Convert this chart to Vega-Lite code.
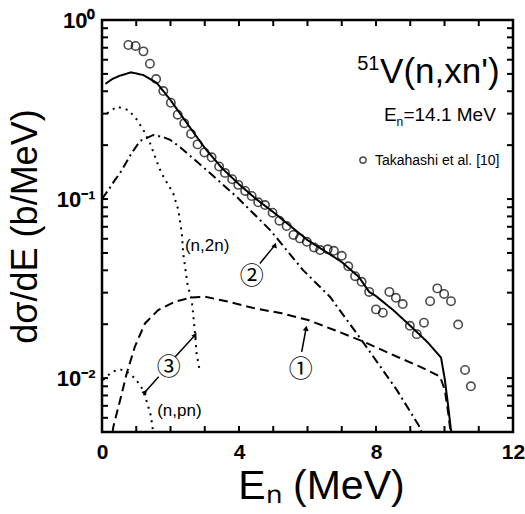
{
  "$schema": "https://vega.github.io/schema/vega-lite/v6.json",
  "width": 411,
  "height": 412,
  "autosize": {"type": "none"},
  "padding": {"left": 102, "top": 20, "right": 12, "bottom": 82},
  "background": "white",
  "config": {
    "view": {"stroke": "black", "strokeWidth": 2.5},
    "font": "Liberation Sans",
    "axis": {"domain": false, "grid": false, "labelColor": "black", "titleColor": "black", "labelOverlap": false, "labelFlush": false}
  },
  "datasets": {
    "xticks": [{"v":0},{"v":1},{"v":2},{"v":3},{"v":4},{"v":5},{"v":6},{"v":7},{"v":8},{"v":9},{"v":10},{"v":11},{"v":12}],
    "yticks": [{"v":0.006},{"v":0.007},{"v":0.008},{"v":0.009},{"v":0.01},{"v":0.02},{"v":0.03},{"v":0.04},{"v":0.05},{"v":0.06},{"v":0.07},{"v":0.08},{"v":0.09},{"v":0.1},{"v":0.2},{"v":0.3},{"v":0.4},{"v":0.5},{"v":0.6},{"v":0.7},{"v":0.8},{"v":0.9}],
    "points": [
      {"E":0.77,"y":0.725},{"E":0.98,"y":0.716},{"E":1.21,"y":0.668},{"E":1.40,"y":0.570},{"E":1.58,"y":0.468},
      {"E":1.79,"y":0.401},{"E":2.01,"y":0.345},{"E":2.21,"y":0.296},{"E":2.40,"y":0.265},{"E":2.60,"y":0.231},
      {"E":2.79,"y":0.202},{"E":2.99,"y":0.182},{"E":3.20,"y":0.171},{"E":3.42,"y":0.152},{"E":3.59,"y":0.140},
      {"E":3.80,"y":0.129},{"E":3.98,"y":0.120},{"E":4.18,"y":0.111},{"E":4.37,"y":0.104},{"E":4.56,"y":0.0959},
      {"E":4.76,"y":0.0926},{"E":4.98,"y":0.0839},{"E":5.18,"y":0.0757},{"E":5.39,"y":0.0707},{"E":5.59,"y":0.0630},
      {"E":5.78,"y":0.0603},{"E":5.98,"y":0.0577},{"E":6.19,"y":0.0537},{"E":6.37,"y":0.0519},{"E":6.59,"y":0.0524},
      {"E":6.77,"y":0.0514},{"E":7.00,"y":0.0482},{"E":7.19,"y":0.0421},{"E":7.39,"y":0.0371},{"E":7.58,"y":0.0345},
      {"E":7.80,"y":0.0303},{"E":8.00,"y":0.0242},{"E":8.20,"y":0.0232},{"E":8.39,"y":0.0303},{"E":8.58,"y":0.0281},
      {"E":8.78,"y":0.0259},{"E":8.99,"y":0.0196},{"E":9.19,"y":0.0176},{"E":9.40,"y":0.0204},{"E":9.58,"y":0.0269},
      {"E":9.79,"y":0.0317},{"E":9.99,"y":0.0295},{"E":10.19,"y":0.0269},{"E":10.40,"y":0.0199},{"E":10.60,"y":0.0111},
      {"E":10.77,"y":0.0090}
    ],
    "curves": [
      {"s":"total","E":0.1,"y":0.44},{"s":"total","E":0.3,"y":0.468},{"s":"total","E":0.5,"y":0.487},{"s":"total","E":0.85,"y":0.51},
      {"s":"total","E":1.2,"y":0.493},{"s":"total","E":1.6,"y":0.445},{"s":"total","E":2.0,"y":0.357},{"s":"total","E":2.5,"y":0.262},
      {"s":"total","E":3.0,"y":0.193},{"s":"total","E":3.5,"y":0.149},{"s":"total","E":4.0,"y":0.121},{"s":"total","E":4.5,"y":0.1},
      {"s":"total","E":5.0,"y":0.0846},{"s":"total","E":5.5,"y":0.0707},{"s":"total","E":6.0,"y":0.059},{"s":"total","E":6.5,"y":0.0513},
      {"s":"total","E":7.0,"y":0.0445},{"s":"total","E":7.5,"y":0.0367},{"s":"total","E":7.8,"y":0.0303},{"s":"total","E":8.0,"y":0.0287},
      {"s":"total","E":8.5,"y":0.024},{"s":"total","E":9.0,"y":0.0196},{"s":"total","E":9.5,"y":0.0159},{"s":"total","E":9.9,"y":0.013},
      {"s":"total","E":10.01,"y":0.0098},{"s":"total","E":10.11,"y":0.0069},{"s":"total","E":10.18,"y":0.0053},{"s":"total","E":10.2,"y":0.005},
      {"s":"c1","E":0.31,"y":0.005},{"s":"c1","E":0.33,"y":0.00534},{"s":"c1","E":0.53,"y":0.00754},{"s":"c1","E":0.72,"y":0.0106},
      {"s":"c1","E":0.96,"y":0.015},{"s":"c1","E":1.255,"y":0.0202},{"s":"c1","E":1.64,"y":0.024},{"s":"c1","E":2.13,"y":0.0267},
      {"s":"c1","E":2.62,"y":0.0282},{"s":"c1","E":3.01,"y":0.0285},{"s":"c1","E":3.69,"y":0.0267},{"s":"c1","E":4.47,"y":0.0245},
      {"s":"c1","E":5.25,"y":0.023},{"s":"c1","E":6.02,"y":0.0211},{"s":"c1","E":6.8,"y":0.0185},{"s":"c1","E":7.63,"y":0.016},
      {"s":"c1","E":8.6,"y":0.0132},{"s":"c1","E":9.28,"y":0.0116},{"s":"c1","E":9.87,"y":0.0102},{"s":"c1","E":10.01,"y":0.00857},
      {"s":"c1","E":10.11,"y":0.00635},{"s":"c1","E":10.16,"y":0.00532},{"s":"c1","E":10.17,"y":0.005},
      {"s":"c2","E":0.0,"y":0.1},{"s":"c2","E":0.18,"y":0.112},{"s":"c2","E":0.38,"y":0.128},{"s":"c2","E":0.53,"y":0.14},
      {"s":"c2","E":0.87,"y":0.181},{"s":"c2","E":1.11,"y":0.211},{"s":"c2","E":1.5,"y":0.228},{"s":"c2","E":1.78,"y":0.222},
      {"s":"c2","E":1.99,"y":0.214},{"s":"c2","E":2.28,"y":0.195},{"s":"c2","E":2.95,"y":0.151},{"s":"c2","E":3.94,"y":0.1026},
      {"s":"c2","E":4.91,"y":0.0671},{"s":"c2","E":5.87,"y":0.0401},{"s":"c2","E":6.66,"y":0.0284},{"s":"c2","E":7.62,"y":0.0159},
      {"s":"c2","E":8.61,"y":0.00857},{"s":"c2","E":9.28,"y":0.00532},{"s":"c2","E":9.33,"y":0.005},
      {"s":"n2n","E":0.15,"y":0.301},{"s":"n2n","E":0.43,"y":0.328},{"s":"n2n","E":0.77,"y":0.314},{"s":"n2n","E":1.01,"y":0.279},
      {"s":"n2n","E":1.21,"y":0.243},{"s":"n2n","E":1.4,"y":0.206},{"s":"n2n","E":1.6,"y":0.162},{"s":"n2n","E":1.74,"y":0.139},
      {"s":"n2n","E":2.08,"y":0.1076},{"s":"n2n","E":2.23,"y":0.0868},{"s":"n2n","E":2.33,"y":0.0646},{"s":"n2n","E":2.37,"y":0.0499},
      {"s":"n2n","E":2.5,"y":0.0331},{"s":"n2n","E":2.62,"y":0.0273},{"s":"n2n","E":2.67,"y":0.0219},{"s":"n2n","E":2.72,"y":0.0174},
      {"s":"n2n","E":2.76,"y":0.0138},{"s":"n2n","E":2.86,"y":0.0108},
      {"s":"npn","E":0.03,"y":0.00975},{"s":"npn","E":0.29,"y":0.01084},{"s":"npn","E":0.53,"y":0.0112},{"s":"npn","E":0.73,"y":0.01084},
      {"s":"npn","E":0.97,"y":0.00996},{"s":"npn","E":1.17,"y":0.00876},{"s":"npn","E":1.31,"y":0.00737},{"s":"npn","E":1.41,"y":0.00635},
      {"s":"npn","E":1.46,"y":0.00558},{"s":"npn","E":1.49,"y":0.005}
    ],
    "arrows": [
      {"id":"a1","x":5.83,"y":0.014,"x2":5.96,"y2":0.019},
      {"id":"a2","x":4.61,"y":0.0437,"x2":5.05,"y2":0.0553},
      {"id":"a3a","x":2.14,"y":0.01315,"x2":2.72,"y2":0.0174},
      {"id":"a3b","x":1.655,"y":0.01016,"x2":1.264,"y2":0.00838}
    ],
    "circled": [
      {"t":"①","E":5.8,"y":0.0111},
      {"t":"②","E":4.37,"y":0.0368},
      {"t":"③","E":1.95,"y":0.01132}
    ],
    "notes": [
      {"t":"51","k":"sup","E":7.45,"y":0.526},
      {"t":"V(n,xn')","k":"big","E":8.12,"y":0.445},
      {"t":"E","k":"mid","E":8.23,"y":0.273},
      {"t":"n","k":"sub","E":8.6,"y":0.256},
      {"t":"=14.1 MeV","k":"mid","E":8.8,"y":0.273},
      {"t":"Takahashi et al. [10]","k":"leg","E":7.97,"y":0.155},
      {"t":"(n,2n)","k":"lab","E":2.42,"y":0.0512},
      {"t":"(n,pn)","k":"lab","E":1.61,"y":0.00613}
    ],
    "legend": [{"E":7.62,"y":0.165}]
  },
  "encoding": {
    "x": {"type": "quantitative", "scale": {"domain": [0, 12], "nice": false},
      "axis": {"orient": "bottom", "values": [0,4,8,12], "ticks": false,
        "labelPadding": 9, "labelFontSize": 21, "labelFontWeight": "bold", "labelFont": "Liberation Sans",
        "title": "Eₙ  (MeV)", "titleFontSize": 41, "titleFontWeight": "normal", "titleFont": "Liberation Sans", "titlePadding": 4, "titleX": 219}},
    "y": {"type": "quantitative", "scale": {"type": "log", "domain": [0.005, 1], "nice": false},
      "axis": {"orient": "left", "values": [0.01, 0.1, 1], "ticks": false,
        "labelExpr": "datum.value === 1 ? '10⁰' : (datum.value === 0.1 ? '10⁻¹' : '10⁻²')",
        "labelPadding": 7, "labelFontSize": 22, "labelFontWeight": "bold", "labelFont": "Liberation Sans",
        "title": "dσ/dE  (b/MeV)", "titleFontSize": 36, "titleFontWeight": "normal", "titleFont": "Liberation Sans", "titlePadding": 12}}
  },
  "layer": [
    {
      "data": {"name": "xticks"},
      "mark": {"type": "tick", "orient": "vertical", "size": 6, "thickness": 2, "color": "black", "opacity": 1, "yOffset": -3},
      "encoding": {"x": {"field": "v"}, "y": {"datum": 0.005}}
    },
    {
      "data": {"name": "xticks"},
      "mark": {"type": "tick", "orient": "vertical", "size": 6, "thickness": 2, "color": "black", "opacity": 1, "yOffset": 3},
      "encoding": {"x": {"field": "v"}, "y": {"datum": 1}}
    },
    {
      "data": {"name": "yticks"},
      "mark": {"type": "tick", "orient": "horizontal", "size": 6, "thickness": 2, "color": "black", "opacity": 1, "xOffset": 3},
      "encoding": {"x": {"datum": 0}, "y": {"field": "v"}}
    },
    {
      "data": {"name": "yticks"},
      "mark": {"type": "tick", "orient": "horizontal", "size": 6, "thickness": 2, "color": "black", "opacity": 1, "xOffset": -3},
      "encoding": {"x": {"datum": 12}, "y": {"field": "v"}}
    },
    {
      "data": {"name": "curves"},
      "mark": {"type": "line", "color": "black", "strokeWidth": 2, "clip": true},
      "encoding": {
        "x": {"field": "E"},
        "y": {"field": "y"},
        "detail": {"field": "s", "type": "nominal"},
        "strokeDash": {"field": "s", "type": "nominal", "legend": null,
          "scale": {"domain": ["total", "c1", "c2", "n2n", "npn"], "range": [[1, 0], [9, 5], [9, 4, 2, 4], [2, 5], [2, 5]]}}
      }
    },
    {
      "data": {"name": "points"},
      "mark": {"type": "point", "shape": "circle", "filled": false, "stroke": "black", "strokeWidth": 1.6, "size": 70},
      "encoding": {"x": {"field": "E"}, "y": {"field": "y"}}
    },
    {
      "data": {"name": "legend"},
      "mark": {"type": "point", "shape": "circle", "filled": false, "stroke": "black", "strokeWidth": 1.5, "size": 40},
      "encoding": {"x": {"field": "E"}, "y": {"field": "y"}}
    },
    {
      "data": {"name": "arrows"},
      "mark": {"type": "rule", "color": "black", "strokeWidth": 1.5},
      "encoding": {"x": {"field": "x"}, "y": {"field": "y"}, "x2": {"field": "x2"}, "y2": {"field": "y2"}}
    },
    {
      "data": {"name": "arrows"},
      "mark": {"type": "point", "shape": "triangle-up", "filled": true, "color": "black", "size": 35, "opacity": 1},
      "encoding": {
        "x": {"field": "x2"},
        "y": {"field": "y2"},
        "angle": {"field": "id", "type": "nominal", "legend": null,
          "scale": {"domain": ["a1", "a2", "a3a", "a3b"], "range": [10, 40, 43, 222]}}
      }
    },
    {
      "data": {"name": "circled"},
      "mark": {"type": "text", "font": "Noto Sans CJK JP", "fontSize": 24, "align": "center", "baseline": "middle", "color": "black"},
      "encoding": {"x": {"field": "E"}, "y": {"field": "y"}, "text": {"field": "t"}}
    },
    {
      "data": {"name": "notes"},
      "transform": [{"filter": "datum.k === 'big'"}],
      "mark": {"type": "text", "font": "Liberation Sans", "fontSize": 35, "align": "left", "baseline": "alphabetic", "color": "black"},
      "encoding": {"x": {"field": "E"}, "y": {"field": "y"}, "text": {"field": "t"}}
    },
    {
      "data": {"name": "notes"},
      "transform": [{"filter": "datum.k === 'sup'"}],
      "mark": {"type": "text", "font": "Liberation Sans", "fontSize": 20, "align": "left", "baseline": "alphabetic", "color": "black"},
      "encoding": {"x": {"field": "E"}, "y": {"field": "y"}, "text": {"field": "t"}}
    },
    {
      "data": {"name": "notes"},
      "transform": [{"filter": "datum.k === 'mid'"}],
      "mark": {"type": "text", "font": "Liberation Sans", "fontSize": 19, "align": "left", "baseline": "alphabetic", "color": "black"},
      "encoding": {"x": {"field": "E"}, "y": {"field": "y"}, "text": {"field": "t"}}
    },
    {
      "data": {"name": "notes"},
      "transform": [{"filter": "datum.k === 'sub'"}],
      "mark": {"type": "text", "font": "Liberation Sans", "fontSize": 12, "align": "left", "baseline": "alphabetic", "color": "black"},
      "encoding": {"x": {"field": "E"}, "y": {"field": "y"}, "text": {"field": "t"}}
    },
    {
      "data": {"name": "notes"},
      "transform": [{"filter": "datum.k === 'leg'"}],
      "mark": {"type": "text", "font": "Liberation Sans", "fontSize": 14, "align": "left", "baseline": "alphabetic", "color": "black"},
      "encoding": {"x": {"field": "E"}, "y": {"field": "y"}, "text": {"field": "t"}}
    },
    {
      "data": {"name": "notes"},
      "transform": [{"filter": "datum.k === 'lab'"}],
      "mark": {"type": "text", "font": "Liberation Sans", "fontSize": 17, "align": "left", "baseline": "alphabetic", "color": "black"},
      "encoding": {"x": {"field": "E"}, "y": {"field": "y"}, "text": {"field": "t"}}
    }
  ]
}
